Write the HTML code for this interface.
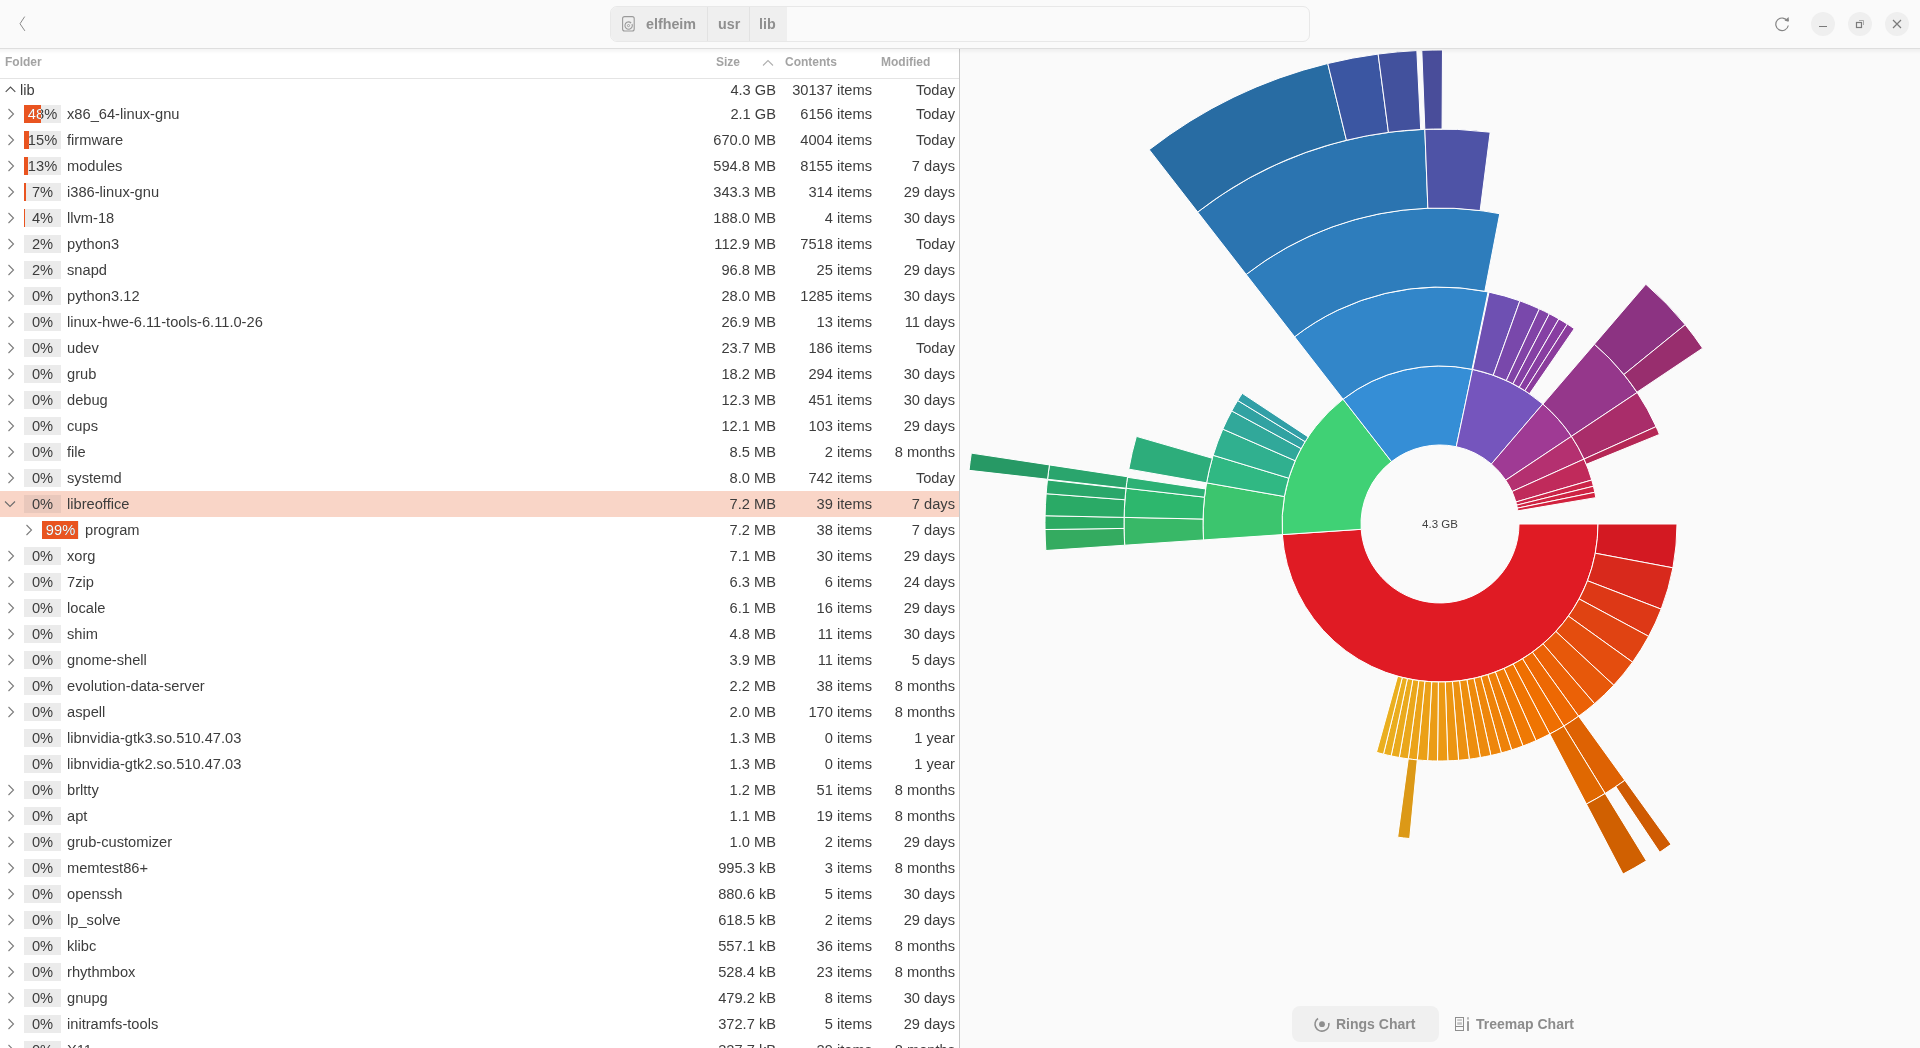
<!DOCTYPE html><html><head><meta charset="utf-8"><style>
*{margin:0;padding:0;box-sizing:border-box}
html,body{width:1920px;height:1048px;overflow:hidden;background:#fafafa;font-family:"Liberation Sans",sans-serif;color:#3d3d3d;-webkit-font-smoothing:antialiased}
#wrap{position:absolute;left:0;top:0;width:1920px;height:1048px;will-change:transform}
#hdr{position:absolute;left:0;top:0;width:1920px;height:49px;background:#fafafa;border-bottom:1px solid #dedede}
#shadow{position:absolute;left:0;top:49px;width:1920px;height:5px;background:linear-gradient(rgba(0,0,0,0.045),rgba(0,0,0,0));z-index:5}
#left{position:absolute;left:0;top:49px;width:959px;height:999px;background:#fff;overflow:hidden}
#vline{position:absolute;left:959px;top:49px;width:1px;height:999px;background:#c8c8c8}
.colh{position:absolute;top:-1px;height:29px;line-height:29px;font-weight:bold;font-size:12px;color:#a3a3a3}
#colb{position:absolute;left:0;top:29px;width:959px;height:1px;background:#e4e4e4}
.row{position:absolute;left:0;width:959px;height:26px;font-size:14.67px;line-height:26px}
.row.hl{background:#f9d5c7}
.ex{position:absolute}
.ex svg{display:block}
.pb{position:absolute;top:4px;width:37px;height:18px;background:#ebebeb;overflow:hidden}
.hl .pb{background:#e9c8bc}
.pf{position:absolute;left:0;top:0;height:18px;background:#e95420}
.pt{position:absolute;left:0;top:0;width:37px;height:18px;line-height:18px;text-align:center;font-size:14.67px;color:#3d3d3d}
.pt.w{color:#fff}
.pclip{position:absolute;left:0;top:0;height:18px;overflow:hidden}
.nm{position:absolute;top:0;white-space:pre}
.c1{position:absolute;right:183px;top:0;white-space:pre}
.c2{position:absolute;right:87px;top:0;white-space:pre}
.c3{position:absolute;right:4px;top:0;white-space:pre}
#pathbar{position:absolute;left:610px;top:6px;width:700px;height:36px;border:1px solid #e8e8e8;border-radius:7px;background:#fafafa;overflow:hidden}
.seg{position:absolute;top:0;height:34px;background:#efefef;font-weight:bold;font-size:14.3px;line-height:34px;color:#8f8f8f}
.wb{position:absolute;top:12px;width:24px;height:24px;border-radius:12px;background:#efefef}
.btn2{position:absolute;top:1006px;height:36px;border-radius:8px;font-weight:bold;font-size:14px;line-height:36px;color:#8c8c8c}
</style></head><body><div id="wrap">
<div id="hdr"><svg style="position:absolute;left:17px;top:15px" width="10" height="18" viewBox="0 0 10 18"><path d="M7.7 1.6 L3 8.75 L7.9 15.9" fill="none" stroke="#8a8a8a" stroke-width="1"/></svg><div id="pathbar"><div class="seg" style="left:0;width:97px;border-right:1px solid #e2e2e2"><svg style="position:absolute;left:11px;top:9px" width="14" height="17" viewBox="0 0 14 17"><rect x="0.6" y="0.6" width="11.6" height="14.4" rx="2" fill="none" stroke="#9a9a9a" stroke-width="1.1"/><path d="M10.0 8.0 A3.7 3.7 0 1 1 8.2 6.2" fill="none" stroke="#9a9a9a" stroke-width="1.1"/><path d="M7.6 5.4 L9.6 6.4 L8.0 7.8 Z" fill="#9a9a9a"/><circle cx="6.5" cy="9.6" r="1.1" fill="none" stroke="#9a9a9a" stroke-width="0.9"/></svg><span style="position:absolute;left:35px">elfheim</span></div><div class="seg" style="left:97px;width:42px;border-right:1px solid #e2e2e2"><span style="position:absolute;left:10px">usr</span></div><div class="seg" style="left:139px;width:37px"><span style="position:absolute;left:9px">lib</span></div></div><svg style="position:absolute;left:1774px;top:16px" width="18" height="16" viewBox="0 0 18 16"><path d="M13.6 5.2 A6.3 6.3 0 1 0 14.3 9.5" fill="none" stroke="#858585" stroke-width="1.2"/><path d="M10.5 4.8 L15 5.6 L14.6 1" fill="#858585" stroke="none"/></svg><div class="wb" style="left:1811px"><div style="position:absolute;left:8px;top:14px;width:8px;height:1.3px;background:#7a7a7a"></div></div><div class="wb" style="left:1848px"><svg style="position:absolute;left:7px;top:7px" width="10" height="10" viewBox="0 0 10 10"><rect x="1.5" y="3.5" width="5" height="5" fill="none" stroke="#7a7a7a" stroke-width="1.2"/><path d="M4 1.5 H8.5 V6" fill="none" stroke="#9a9a9a" stroke-width="0.8"/></svg></div><div class="wb" style="left:1885px"><svg style="position:absolute;left:7px;top:7px" width="10" height="10" viewBox="0 0 10 10"><path d="M1 1 L9 9 M9 1 L1 9" fill="none" stroke="#7a7a7a" stroke-width="1.2"/></svg></div></div><div id="left"><div class="colh" style="left:5px">Folder</div><div class="colh" style="left:716px">Size</div><svg style="position:absolute;left:762px;top:10px" width="12" height="8" viewBox="0 0 12 8"><path d="M1 6.5 L6 1.5 L11 6.5" fill="none" stroke="#b0b0b0" stroke-width="1.1"/></svg><div class="colh" style="left:785px">Contents</div><div class="colh" style="left:881px">Modified</div><div id="colb"></div></div><div style="position:absolute;left:0;top:0;width:959px;height:1048px;overflow:hidden"><div class="row" style="top:78px;height:24px;line-height:24px"><div class="ex" style="left:5px;top:8px"><svg width="11" height="7" viewBox="0 0 11 7"><path d="M0.7 5.8 L5.5 1 L10.3 5.8" fill="none" stroke="#505050" stroke-width="1.1"/></svg></div><div class="nm" style="left:20px">lib</div><div class="c1">4.3 GB</div><div class="c2">30137 items</div><div class="c3">Today</div></div>
<div class="row" style="top:101px"><div class="ex" style="left:7px;top:7px"><svg class="chev" width="8" height="12" viewBox="0 0 8 12"><path d="M1.5 1 L6.5 6 L1.5 11" fill="none" stroke="#7c7c7c" stroke-width="1.1"/></svg></div><div class="pb" style="left:24px"><div class="pf" style="width:17px"></div><span class="pt">48%</span><div class="pclip" style="width:17px"><span class="pt w">48%</span></div></div><div class="nm" style="left:67px">x86_64-linux-gnu</div><div class="c1">2.1 GB</div><div class="c2">6156 items</div><div class="c3">Today</div></div>
<div class="row" style="top:127px"><div class="ex" style="left:7px;top:7px"><svg class="chev" width="8" height="12" viewBox="0 0 8 12"><path d="M1.5 1 L6.5 6 L1.5 11" fill="none" stroke="#7c7c7c" stroke-width="1.1"/></svg></div><div class="pb" style="left:24px"><div class="pf" style="width:5px"></div><span class="pt">15%</span><div class="pclip" style="width:5px"><span class="pt w">15%</span></div></div><div class="nm" style="left:67px">firmware</div><div class="c1">670.0 MB</div><div class="c2">4004 items</div><div class="c3">Today</div></div>
<div class="row" style="top:153px"><div class="ex" style="left:7px;top:7px"><svg class="chev" width="8" height="12" viewBox="0 0 8 12"><path d="M1.5 1 L6.5 6 L1.5 11" fill="none" stroke="#7c7c7c" stroke-width="1.1"/></svg></div><div class="pb" style="left:24px"><div class="pf" style="width:4px"></div><span class="pt">13%</span><div class="pclip" style="width:4px"><span class="pt w">13%</span></div></div><div class="nm" style="left:67px">modules</div><div class="c1">594.8 MB</div><div class="c2">8155 items</div><div class="c3">7 days</div></div>
<div class="row" style="top:179px"><div class="ex" style="left:7px;top:7px"><svg class="chev" width="8" height="12" viewBox="0 0 8 12"><path d="M1.5 1 L6.5 6 L1.5 11" fill="none" stroke="#7c7c7c" stroke-width="1.1"/></svg></div><div class="pb" style="left:24px"><div class="pf" style="width:2px"></div><span class="pt">7%</span><div class="pclip" style="width:2px"><span class="pt w">7%</span></div></div><div class="nm" style="left:67px">i386-linux-gnu</div><div class="c1">343.3 MB</div><div class="c2">314 items</div><div class="c3">29 days</div></div>
<div class="row" style="top:205px"><div class="ex" style="left:7px;top:7px"><svg class="chev" width="8" height="12" viewBox="0 0 8 12"><path d="M1.5 1 L6.5 6 L1.5 11" fill="none" stroke="#7c7c7c" stroke-width="1.1"/></svg></div><div class="pb" style="left:24px"><div class="pf" style="width:1px"></div><span class="pt">4%</span><div class="pclip" style="width:1px"><span class="pt w">4%</span></div></div><div class="nm" style="left:67px">llvm-18</div><div class="c1">188.0 MB</div><div class="c2">4 items</div><div class="c3">30 days</div></div>
<div class="row" style="top:231px"><div class="ex" style="left:7px;top:7px"><svg class="chev" width="8" height="12" viewBox="0 0 8 12"><path d="M1.5 1 L6.5 6 L1.5 11" fill="none" stroke="#7c7c7c" stroke-width="1.1"/></svg></div><div class="pb" style="left:24px"><div class="pf" style="width:0px"></div><span class="pt">2%</span></div><div class="nm" style="left:67px">python3</div><div class="c1">112.9 MB</div><div class="c2">7518 items</div><div class="c3">Today</div></div>
<div class="row" style="top:257px"><div class="ex" style="left:7px;top:7px"><svg class="chev" width="8" height="12" viewBox="0 0 8 12"><path d="M1.5 1 L6.5 6 L1.5 11" fill="none" stroke="#7c7c7c" stroke-width="1.1"/></svg></div><div class="pb" style="left:24px"><div class="pf" style="width:0px"></div><span class="pt">2%</span></div><div class="nm" style="left:67px">snapd</div><div class="c1">96.8 MB</div><div class="c2">25 items</div><div class="c3">29 days</div></div>
<div class="row" style="top:283px"><div class="ex" style="left:7px;top:7px"><svg class="chev" width="8" height="12" viewBox="0 0 8 12"><path d="M1.5 1 L6.5 6 L1.5 11" fill="none" stroke="#7c7c7c" stroke-width="1.1"/></svg></div><div class="pb" style="left:24px"><div class="pf" style="width:0px"></div><span class="pt">0%</span></div><div class="nm" style="left:67px">python3.12</div><div class="c1">28.0 MB</div><div class="c2">1285 items</div><div class="c3">30 days</div></div>
<div class="row" style="top:309px"><div class="ex" style="left:7px;top:7px"><svg class="chev" width="8" height="12" viewBox="0 0 8 12"><path d="M1.5 1 L6.5 6 L1.5 11" fill="none" stroke="#7c7c7c" stroke-width="1.1"/></svg></div><div class="pb" style="left:24px"><div class="pf" style="width:0px"></div><span class="pt">0%</span></div><div class="nm" style="left:67px">linux-hwe-6.11-tools-6.11.0-26</div><div class="c1">26.9 MB</div><div class="c2">13 items</div><div class="c3">11 days</div></div>
<div class="row" style="top:335px"><div class="ex" style="left:7px;top:7px"><svg class="chev" width="8" height="12" viewBox="0 0 8 12"><path d="M1.5 1 L6.5 6 L1.5 11" fill="none" stroke="#7c7c7c" stroke-width="1.1"/></svg></div><div class="pb" style="left:24px"><div class="pf" style="width:0px"></div><span class="pt">0%</span></div><div class="nm" style="left:67px">udev</div><div class="c1">23.7 MB</div><div class="c2">186 items</div><div class="c3">Today</div></div>
<div class="row" style="top:361px"><div class="ex" style="left:7px;top:7px"><svg class="chev" width="8" height="12" viewBox="0 0 8 12"><path d="M1.5 1 L6.5 6 L1.5 11" fill="none" stroke="#7c7c7c" stroke-width="1.1"/></svg></div><div class="pb" style="left:24px"><div class="pf" style="width:0px"></div><span class="pt">0%</span></div><div class="nm" style="left:67px">grub</div><div class="c1">18.2 MB</div><div class="c2">294 items</div><div class="c3">30 days</div></div>
<div class="row" style="top:387px"><div class="ex" style="left:7px;top:7px"><svg class="chev" width="8" height="12" viewBox="0 0 8 12"><path d="M1.5 1 L6.5 6 L1.5 11" fill="none" stroke="#7c7c7c" stroke-width="1.1"/></svg></div><div class="pb" style="left:24px"><div class="pf" style="width:0px"></div><span class="pt">0%</span></div><div class="nm" style="left:67px">debug</div><div class="c1">12.3 MB</div><div class="c2">451 items</div><div class="c3">30 days</div></div>
<div class="row" style="top:413px"><div class="ex" style="left:7px;top:7px"><svg class="chev" width="8" height="12" viewBox="0 0 8 12"><path d="M1.5 1 L6.5 6 L1.5 11" fill="none" stroke="#7c7c7c" stroke-width="1.1"/></svg></div><div class="pb" style="left:24px"><div class="pf" style="width:0px"></div><span class="pt">0%</span></div><div class="nm" style="left:67px">cups</div><div class="c1">12.1 MB</div><div class="c2">103 items</div><div class="c3">29 days</div></div>
<div class="row" style="top:439px"><div class="ex" style="left:7px;top:7px"><svg class="chev" width="8" height="12" viewBox="0 0 8 12"><path d="M1.5 1 L6.5 6 L1.5 11" fill="none" stroke="#7c7c7c" stroke-width="1.1"/></svg></div><div class="pb" style="left:24px"><div class="pf" style="width:0px"></div><span class="pt">0%</span></div><div class="nm" style="left:67px">file</div><div class="c1">8.5 MB</div><div class="c2">2 items</div><div class="c3">8 months</div></div>
<div class="row" style="top:465px"><div class="ex" style="left:7px;top:7px"><svg class="chev" width="8" height="12" viewBox="0 0 8 12"><path d="M1.5 1 L6.5 6 L1.5 11" fill="none" stroke="#7c7c7c" stroke-width="1.1"/></svg></div><div class="pb" style="left:24px"><div class="pf" style="width:0px"></div><span class="pt">0%</span></div><div class="nm" style="left:67px">systemd</div><div class="c1">8.0 MB</div><div class="c2">742 items</div><div class="c3">Today</div></div>
<div class="row hl" style="top:491px"><div class="ex" style="left:4+0px;top:9px;left:4px"><svg class="chev" width="12" height="8" viewBox="0 0 12 8"><path d="M1 1.5 L6 6.5 L11 1.5" fill="none" stroke="#6c6c6c" stroke-width="1.1"/></svg></div><div class="pb" style="left:24px"><div class="pf" style="width:0px"></div><span class="pt">0%</span></div><div class="nm" style="left:67px">libreoffice</div><div class="c1">7.2 MB</div><div class="c2">39 items</div><div class="c3">7 days</div></div>
<div class="row" style="top:517px"><div class="ex" style="left:25px;top:7px"><svg class="chev" width="8" height="12" viewBox="0 0 8 12"><path d="M1.5 1 L6.5 6 L1.5 11" fill="none" stroke="#7c7c7c" stroke-width="1.1"/></svg></div><div class="pb" style="left:42px"><div class="pf" style="width:36px"></div><span class="pt">99%</span><div class="pclip" style="width:36px"><span class="pt w">99%</span></div></div><div class="nm" style="left:85px">program</div><div class="c1">7.2 MB</div><div class="c2">38 items</div><div class="c3">7 days</div></div>
<div class="row" style="top:543px"><div class="ex" style="left:7px;top:7px"><svg class="chev" width="8" height="12" viewBox="0 0 8 12"><path d="M1.5 1 L6.5 6 L1.5 11" fill="none" stroke="#7c7c7c" stroke-width="1.1"/></svg></div><div class="pb" style="left:24px"><div class="pf" style="width:0px"></div><span class="pt">0%</span></div><div class="nm" style="left:67px">xorg</div><div class="c1">7.1 MB</div><div class="c2">30 items</div><div class="c3">29 days</div></div>
<div class="row" style="top:569px"><div class="ex" style="left:7px;top:7px"><svg class="chev" width="8" height="12" viewBox="0 0 8 12"><path d="M1.5 1 L6.5 6 L1.5 11" fill="none" stroke="#7c7c7c" stroke-width="1.1"/></svg></div><div class="pb" style="left:24px"><div class="pf" style="width:0px"></div><span class="pt">0%</span></div><div class="nm" style="left:67px">7zip</div><div class="c1">6.3 MB</div><div class="c2">6 items</div><div class="c3">24 days</div></div>
<div class="row" style="top:595px"><div class="ex" style="left:7px;top:7px"><svg class="chev" width="8" height="12" viewBox="0 0 8 12"><path d="M1.5 1 L6.5 6 L1.5 11" fill="none" stroke="#7c7c7c" stroke-width="1.1"/></svg></div><div class="pb" style="left:24px"><div class="pf" style="width:0px"></div><span class="pt">0%</span></div><div class="nm" style="left:67px">locale</div><div class="c1">6.1 MB</div><div class="c2">16 items</div><div class="c3">29 days</div></div>
<div class="row" style="top:621px"><div class="ex" style="left:7px;top:7px"><svg class="chev" width="8" height="12" viewBox="0 0 8 12"><path d="M1.5 1 L6.5 6 L1.5 11" fill="none" stroke="#7c7c7c" stroke-width="1.1"/></svg></div><div class="pb" style="left:24px"><div class="pf" style="width:0px"></div><span class="pt">0%</span></div><div class="nm" style="left:67px">shim</div><div class="c1">4.8 MB</div><div class="c2">11 items</div><div class="c3">30 days</div></div>
<div class="row" style="top:647px"><div class="ex" style="left:7px;top:7px"><svg class="chev" width="8" height="12" viewBox="0 0 8 12"><path d="M1.5 1 L6.5 6 L1.5 11" fill="none" stroke="#7c7c7c" stroke-width="1.1"/></svg></div><div class="pb" style="left:24px"><div class="pf" style="width:0px"></div><span class="pt">0%</span></div><div class="nm" style="left:67px">gnome-shell</div><div class="c1">3.9 MB</div><div class="c2">11 items</div><div class="c3">5 days</div></div>
<div class="row" style="top:673px"><div class="ex" style="left:7px;top:7px"><svg class="chev" width="8" height="12" viewBox="0 0 8 12"><path d="M1.5 1 L6.5 6 L1.5 11" fill="none" stroke="#7c7c7c" stroke-width="1.1"/></svg></div><div class="pb" style="left:24px"><div class="pf" style="width:0px"></div><span class="pt">0%</span></div><div class="nm" style="left:67px">evolution-data-server</div><div class="c1">2.2 MB</div><div class="c2">38 items</div><div class="c3">8 months</div></div>
<div class="row" style="top:699px"><div class="ex" style="left:7px;top:7px"><svg class="chev" width="8" height="12" viewBox="0 0 8 12"><path d="M1.5 1 L6.5 6 L1.5 11" fill="none" stroke="#7c7c7c" stroke-width="1.1"/></svg></div><div class="pb" style="left:24px"><div class="pf" style="width:0px"></div><span class="pt">0%</span></div><div class="nm" style="left:67px">aspell</div><div class="c1">2.0 MB</div><div class="c2">170 items</div><div class="c3">8 months</div></div>
<div class="row" style="top:725px"><div class="pb" style="left:24px"><div class="pf" style="width:0px"></div><span class="pt">0%</span></div><div class="nm" style="left:67px">libnvidia-gtk3.so.510.47.03</div><div class="c1">1.3 MB</div><div class="c2">0 items</div><div class="c3">1 year</div></div>
<div class="row" style="top:751px"><div class="pb" style="left:24px"><div class="pf" style="width:0px"></div><span class="pt">0%</span></div><div class="nm" style="left:67px">libnvidia-gtk2.so.510.47.03</div><div class="c1">1.3 MB</div><div class="c2">0 items</div><div class="c3">1 year</div></div>
<div class="row" style="top:777px"><div class="ex" style="left:7px;top:7px"><svg class="chev" width="8" height="12" viewBox="0 0 8 12"><path d="M1.5 1 L6.5 6 L1.5 11" fill="none" stroke="#7c7c7c" stroke-width="1.1"/></svg></div><div class="pb" style="left:24px"><div class="pf" style="width:0px"></div><span class="pt">0%</span></div><div class="nm" style="left:67px">brltty</div><div class="c1">1.2 MB</div><div class="c2">51 items</div><div class="c3">8 months</div></div>
<div class="row" style="top:803px"><div class="ex" style="left:7px;top:7px"><svg class="chev" width="8" height="12" viewBox="0 0 8 12"><path d="M1.5 1 L6.5 6 L1.5 11" fill="none" stroke="#7c7c7c" stroke-width="1.1"/></svg></div><div class="pb" style="left:24px"><div class="pf" style="width:0px"></div><span class="pt">0%</span></div><div class="nm" style="left:67px">apt</div><div class="c1">1.1 MB</div><div class="c2">19 items</div><div class="c3">8 months</div></div>
<div class="row" style="top:829px"><div class="ex" style="left:7px;top:7px"><svg class="chev" width="8" height="12" viewBox="0 0 8 12"><path d="M1.5 1 L6.5 6 L1.5 11" fill="none" stroke="#7c7c7c" stroke-width="1.1"/></svg></div><div class="pb" style="left:24px"><div class="pf" style="width:0px"></div><span class="pt">0%</span></div><div class="nm" style="left:67px">grub-customizer</div><div class="c1">1.0 MB</div><div class="c2">2 items</div><div class="c3">29 days</div></div>
<div class="row" style="top:855px"><div class="ex" style="left:7px;top:7px"><svg class="chev" width="8" height="12" viewBox="0 0 8 12"><path d="M1.5 1 L6.5 6 L1.5 11" fill="none" stroke="#7c7c7c" stroke-width="1.1"/></svg></div><div class="pb" style="left:24px"><div class="pf" style="width:0px"></div><span class="pt">0%</span></div><div class="nm" style="left:67px">memtest86+</div><div class="c1">995.3 kB</div><div class="c2">3 items</div><div class="c3">8 months</div></div>
<div class="row" style="top:881px"><div class="ex" style="left:7px;top:7px"><svg class="chev" width="8" height="12" viewBox="0 0 8 12"><path d="M1.5 1 L6.5 6 L1.5 11" fill="none" stroke="#7c7c7c" stroke-width="1.1"/></svg></div><div class="pb" style="left:24px"><div class="pf" style="width:0px"></div><span class="pt">0%</span></div><div class="nm" style="left:67px">openssh</div><div class="c1">880.6 kB</div><div class="c2">5 items</div><div class="c3">30 days</div></div>
<div class="row" style="top:907px"><div class="ex" style="left:7px;top:7px"><svg class="chev" width="8" height="12" viewBox="0 0 8 12"><path d="M1.5 1 L6.5 6 L1.5 11" fill="none" stroke="#7c7c7c" stroke-width="1.1"/></svg></div><div class="pb" style="left:24px"><div class="pf" style="width:0px"></div><span class="pt">0%</span></div><div class="nm" style="left:67px">lp_solve</div><div class="c1">618.5 kB</div><div class="c2">2 items</div><div class="c3">29 days</div></div>
<div class="row" style="top:933px"><div class="ex" style="left:7px;top:7px"><svg class="chev" width="8" height="12" viewBox="0 0 8 12"><path d="M1.5 1 L6.5 6 L1.5 11" fill="none" stroke="#7c7c7c" stroke-width="1.1"/></svg></div><div class="pb" style="left:24px"><div class="pf" style="width:0px"></div><span class="pt">0%</span></div><div class="nm" style="left:67px">klibc</div><div class="c1">557.1 kB</div><div class="c2">36 items</div><div class="c3">8 months</div></div>
<div class="row" style="top:959px"><div class="ex" style="left:7px;top:7px"><svg class="chev" width="8" height="12" viewBox="0 0 8 12"><path d="M1.5 1 L6.5 6 L1.5 11" fill="none" stroke="#7c7c7c" stroke-width="1.1"/></svg></div><div class="pb" style="left:24px"><div class="pf" style="width:0px"></div><span class="pt">0%</span></div><div class="nm" style="left:67px">rhythmbox</div><div class="c1">528.4 kB</div><div class="c2">23 items</div><div class="c3">8 months</div></div>
<div class="row" style="top:985px"><div class="ex" style="left:7px;top:7px"><svg class="chev" width="8" height="12" viewBox="0 0 8 12"><path d="M1.5 1 L6.5 6 L1.5 11" fill="none" stroke="#7c7c7c" stroke-width="1.1"/></svg></div><div class="pb" style="left:24px"><div class="pf" style="width:0px"></div><span class="pt">0%</span></div><div class="nm" style="left:67px">gnupg</div><div class="c1">479.2 kB</div><div class="c2">8 items</div><div class="c3">30 days</div></div>
<div class="row" style="top:1011px"><div class="ex" style="left:7px;top:7px"><svg class="chev" width="8" height="12" viewBox="0 0 8 12"><path d="M1.5 1 L6.5 6 L1.5 11" fill="none" stroke="#7c7c7c" stroke-width="1.1"/></svg></div><div class="pb" style="left:24px"><div class="pf" style="width:0px"></div><span class="pt">0%</span></div><div class="nm" style="left:67px">initramfs-tools</div><div class="c1">372.7 kB</div><div class="c2">5 items</div><div class="c3">29 days</div></div>
<div class="row" style="top:1037px"><div class="ex" style="left:7px;top:7px"><svg class="chev" width="8" height="12" viewBox="0 0 8 12"><path d="M1.5 1 L6.5 6 L1.5 11" fill="none" stroke="#7c7c7c" stroke-width="1.1"/></svg></div><div class="pb" style="left:24px"><div class="pf" style="width:0px"></div><span class="pt">0%</span></div><div class="nm" style="left:67px">X11</div><div class="c1">327.7 kB</div><div class="c2">29 items</div><div class="c3">8 months</div></div>
</div><div id="vline"></div><div id="shadow"></div><svg style="position:absolute;left:960px;top:49px" width="960" height="999" viewBox="0 0 960 999">
<path d="M638.00 475.00A158.0 158.0 0 0 1 322.36 485.61L401.18 480.30A79.0 79.0 0 0 0 559.00 475.00Z" fill="#e01b24" stroke="#fff" stroke-width="1" stroke-linejoin="round"/>
<path d="M322.36 485.61A158.0 158.0 0 0 1 383.07 350.22L431.54 412.61A79.0 79.0 0 0 0 401.18 480.30Z" fill="#40d175" stroke="#fff" stroke-width="1" stroke-linejoin="round"/>
<path d="M383.07 350.22A158.0 158.0 0 0 1 512.53 320.38L496.26 397.69A79.0 79.0 0 0 0 431.54 412.61Z" fill="#358ed6" stroke="#fff" stroke-width="1" stroke-linejoin="round"/>
<path d="M512.53 320.38A158.0 158.0 0 0 1 582.78 355.00L531.39 415.00A79.0 79.0 0 0 0 496.26 397.69Z" fill="#7555bd" stroke="#fff" stroke-width="1" stroke-linejoin="round"/>
<path d="M582.78 355.00A158.0 158.0 0 0 1 611.45 387.33L545.72 431.17A79.0 79.0 0 0 0 531.39 415.00Z" fill="#9f3a94" stroke="#fff" stroke-width="1" stroke-linejoin="round"/>
<path d="M611.45 387.33A158.0 158.0 0 0 1 624.05 410.08L552.02 442.54A79.0 79.0 0 0 0 545.72 431.17Z" fill="#b43070" stroke="#fff" stroke-width="1" stroke-linejoin="round"/>
<path d="M624.05 410.08A158.0 158.0 0 0 1 631.75 431.00L555.87 453.00A79.0 79.0 0 0 0 552.02 442.54Z" fill="#c02a5b" stroke="#fff" stroke-width="1" stroke-linejoin="round"/>
<path d="M631.75 431.00A158.0 158.0 0 0 1 633.42 437.23L556.71 456.12A79.0 79.0 0 0 0 555.87 453.00Z" fill="#cb2549" stroke="#fff" stroke-width="1" stroke-linejoin="round"/>
<path d="M633.42 437.23A158.0 158.0 0 0 1 634.78 443.28L557.39 459.14A79.0 79.0 0 0 0 556.71 456.12Z" fill="#ce2443" stroke="#fff" stroke-width="1" stroke-linejoin="round"/>
<path d="M634.78 443.28A158.0 158.0 0 0 1 635.79 448.65L557.89 461.83A79.0 79.0 0 0 0 557.39 459.14Z" fill="#d1223e" stroke="#fff" stroke-width="1" stroke-linejoin="round"/>
<path d="M717.00 475.00A237.0 237.0 0 0 1 712.91 518.84L635.27 504.23A158.0 158.0 0 0 0 638.00 475.00Z" fill="#d31922" stroke="#fff" stroke-width="1" stroke-linejoin="round"/>
<path d="M712.91 518.84A237.0 237.0 0 0 1 701.18 560.13L627.46 531.75A158.0 158.0 0 0 0 635.27 504.23Z" fill="#d8291c" stroke="#fff" stroke-width="1" stroke-linejoin="round"/>
<path d="M701.18 560.13A237.0 237.0 0 0 1 688.67 587.36L619.12 549.91A158.0 158.0 0 0 0 627.46 531.75Z" fill="#dd3816" stroke="#fff" stroke-width="1" stroke-linejoin="round"/>
<path d="M688.67 587.36A237.0 237.0 0 0 1 672.58 613.13L608.39 567.09A158.0 158.0 0 0 0 619.12 549.91Z" fill="#e04312" stroke="#fff" stroke-width="1" stroke-linejoin="round"/>
<path d="M672.58 613.13A237.0 237.0 0 0 1 653.75 636.18L595.84 582.45A158.0 158.0 0 0 0 608.39 567.09Z" fill="#e44d0e" stroke="#fff" stroke-width="1" stroke-linejoin="round"/>
<path d="M653.75 636.18A237.0 237.0 0 0 1 634.55 654.68L583.03 594.79A158.0 158.0 0 0 0 595.84 582.45Z" fill="#e7580a" stroke="#fff" stroke-width="1" stroke-linejoin="round"/>
<path d="M634.55 654.68A237.0 237.0 0 0 1 618.63 667.22L572.42 603.15A158.0 158.0 0 0 0 583.03 594.79Z" fill="#eb6106" stroke="#fff" stroke-width="1" stroke-linejoin="round"/>
<path d="M618.63 667.22A237.0 237.0 0 0 1 603.83 677.08L562.55 609.72A158.0 158.0 0 0 0 572.42 603.15Z" fill="#ed6803" stroke="#fff" stroke-width="1" stroke-linejoin="round"/>
<path d="M603.83 677.08A237.0 237.0 0 0 1 589.80 685.03L553.20 615.02A158.0 158.0 0 0 0 562.55 609.72Z" fill="#ef6f01" stroke="#fff" stroke-width="1" stroke-linejoin="round"/>
<path d="M589.80 685.03A237.0 237.0 0 0 1 576.02 691.68L544.01 619.45A158.0 158.0 0 0 0 553.20 615.02Z" fill="#ef7402" stroke="#fff" stroke-width="1" stroke-linejoin="round"/>
<path d="M576.02 691.68A237.0 237.0 0 0 1 563.00 696.99L535.33 622.99A158.0 158.0 0 0 0 544.01 619.45Z" fill="#ef7904" stroke="#fff" stroke-width="1" stroke-linejoin="round"/>
<path d="M563.00 696.99A237.0 237.0 0 0 1 551.66 700.91L527.77 625.60A158.0 158.0 0 0 0 535.33 622.99Z" fill="#ee7e07" stroke="#fff" stroke-width="1" stroke-linejoin="round"/>
<path d="M551.66 700.91A237.0 237.0 0 0 1 541.34 703.92L520.89 627.62A158.0 158.0 0 0 0 527.77 625.60Z" fill="#ee8209" stroke="#fff" stroke-width="1" stroke-linejoin="round"/>
<path d="M541.34 703.92A237.0 237.0 0 0 1 530.89 706.47L513.93 629.31A158.0 158.0 0 0 0 520.89 627.62Z" fill="#ee860b" stroke="#fff" stroke-width="1" stroke-linejoin="round"/>
<path d="M530.89 706.47A237.0 237.0 0 0 1 520.34 708.54L506.89 630.69A158.0 158.0 0 0 0 513.93 629.31Z" fill="#ed8a0c" stroke="#fff" stroke-width="1" stroke-linejoin="round"/>
<path d="M520.34 708.54A237.0 237.0 0 0 1 509.29 710.18L499.53 631.79A158.0 158.0 0 0 0 506.89 630.69Z" fill="#ed8e0e" stroke="#fff" stroke-width="1" stroke-linejoin="round"/>
<path d="M509.29 710.18A237.0 237.0 0 0 1 498.59 711.27L492.40 632.51A158.0 158.0 0 0 0 499.53 631.79Z" fill="#ec9110" stroke="#fff" stroke-width="1" stroke-linejoin="round"/>
<path d="M498.59 711.27A237.0 237.0 0 0 1 487.86 711.87L485.24 632.91A158.0 158.0 0 0 0 492.40 632.51Z" fill="#ec9512" stroke="#fff" stroke-width="1" stroke-linejoin="round"/>
<path d="M487.86 711.87A237.0 237.0 0 0 1 477.52 711.99L478.35 632.99A158.0 158.0 0 0 0 485.24 632.91Z" fill="#ec9914" stroke="#fff" stroke-width="1" stroke-linejoin="round"/>
<path d="M477.52 711.99A237.0 237.0 0 0 1 467.60 711.68L471.73 632.78A158.0 158.0 0 0 0 478.35 632.99Z" fill="#eb9c16" stroke="#fff" stroke-width="1" stroke-linejoin="round"/>
<path d="M467.60 711.68A237.0 237.0 0 0 1 457.28 710.91L464.86 632.27A158.0 158.0 0 0 0 471.73 632.78Z" fill="#eba017" stroke="#fff" stroke-width="1" stroke-linejoin="round"/>
<path d="M457.28 710.91A237.0 237.0 0 0 1 448.25 709.86L458.83 631.58A158.0 158.0 0 0 0 464.86 632.27Z" fill="#eba319" stroke="#fff" stroke-width="1" stroke-linejoin="round"/>
<path d="M448.25 709.86A237.0 237.0 0 0 1 439.25 708.47L452.84 630.65A158.0 158.0 0 0 0 458.83 631.58Z" fill="#eaa71b" stroke="#fff" stroke-width="1" stroke-linejoin="round"/>
<path d="M439.25 708.47A237.0 237.0 0 0 1 431.13 706.91L447.42 629.60A158.0 158.0 0 0 0 452.84 630.65Z" fill="#eaaa1c" stroke="#fff" stroke-width="1" stroke-linejoin="round"/>
<path d="M431.13 706.91A237.0 237.0 0 0 1 423.47 705.16L442.31 628.44A158.0 158.0 0 0 0 447.42 629.60Z" fill="#eaad1e" stroke="#fff" stroke-width="1" stroke-linejoin="round"/>
<path d="M423.47 705.16A237.0 237.0 0 0 1 416.47 703.33L437.64 627.22A158.0 158.0 0 0 0 442.31 628.44Z" fill="#eaaf1f" stroke="#fff" stroke-width="1" stroke-linejoin="round"/>
<path d="M243.53 490.91A237.0 237.0 0 0 1 246.60 433.85L324.40 447.56A158.0 158.0 0 0 0 322.36 485.61Z" fill="#3cc56e" stroke="#fff" stroke-width="1" stroke-linejoin="round"/>
<path d="M246.60 433.85A237.0 237.0 0 0 1 253.18 406.30L328.78 429.20A158.0 158.0 0 0 0 324.40 447.56Z" fill="#30b883" stroke="#fff" stroke-width="1" stroke-linejoin="round"/>
<path d="M253.18 406.30A237.0 237.0 0 0 1 262.82 380.12L335.21 411.74A158.0 158.0 0 0 0 328.78 429.20Z" fill="#30b08f" stroke="#fff" stroke-width="1" stroke-linejoin="round"/>
<path d="M262.82 380.12A237.0 237.0 0 0 1 271.72 361.91L341.15 399.61A158.0 158.0 0 0 0 335.21 411.74Z" fill="#31a89a" stroke="#fff" stroke-width="1" stroke-linejoin="round"/>
<path d="M271.72 361.91A237.0 237.0 0 0 1 277.71 351.52L345.14 392.68A158.0 158.0 0 0 0 341.15 399.61Z" fill="#31a2a2" stroke="#fff" stroke-width="1" stroke-linejoin="round"/>
<path d="M277.71 351.52A237.0 237.0 0 0 1 282.25 344.36L348.17 387.91A158.0 158.0 0 0 0 345.14 392.68Z" fill="#319fa7" stroke="#fff" stroke-width="1" stroke-linejoin="round"/>
<path d="M334.61 287.83A237.0 237.0 0 0 1 528.06 242.92L512.04 320.28A158.0 158.0 0 0 0 383.07 350.22Z" fill="#3286c9" stroke="#fff" stroke-width="1" stroke-linejoin="round"/>
<path d="M529.03 243.13A237.0 237.0 0 0 1 559.89 251.87L533.26 326.25A158.0 158.0 0 0 0 512.69 320.42Z" fill="#6e50b2" stroke="#fff" stroke-width="1" stroke-linejoin="round"/>
<path d="M559.89 251.87A237.0 237.0 0 0 1 579.41 259.86L546.27 331.57A158.0 158.0 0 0 0 533.26 326.25Z" fill="#7948ab" stroke="#fff" stroke-width="1" stroke-linejoin="round"/>
<path d="M579.41 259.86A237.0 237.0 0 0 1 589.43 264.78L552.96 334.85A158.0 158.0 0 0 0 546.27 331.57Z" fill="#8143a6" stroke="#fff" stroke-width="1" stroke-linejoin="round"/>
<path d="M589.43 264.78A237.0 237.0 0 0 1 598.86 269.96L559.24 338.31A158.0 158.0 0 0 0 552.96 334.85Z" fill="#8540a4" stroke="#fff" stroke-width="1" stroke-linejoin="round"/>
<path d="M598.86 269.96A237.0 237.0 0 0 1 607.34 275.12L564.89 341.74A158.0 158.0 0 0 0 559.24 338.31Z" fill="#883da1" stroke="#fff" stroke-width="1" stroke-linejoin="round"/>
<path d="M607.34 275.12A237.0 237.0 0 0 1 614.24 279.68L569.49 344.79A158.0 158.0 0 0 0 564.89 341.74Z" fill="#8b3c9c" stroke="#fff" stroke-width="1" stroke-linejoin="round"/>
<path d="M634.39 295.19A237.0 237.0 0 0 1 677.17 343.50L611.45 387.33A158.0 158.0 0 0 0 582.93 355.12Z" fill="#95378b" stroke="#fff" stroke-width="1" stroke-linejoin="round"/>
<path d="M677.17 343.50A237.0 237.0 0 0 1 696.07 377.62L624.05 410.08A158.0 158.0 0 0 0 611.45 387.33Z" fill="#a92d6a" stroke="#fff" stroke-width="1" stroke-linejoin="round"/>
<path d="M696.07 377.62A237.0 237.0 0 0 1 699.43 385.45L626.29 415.30A158.0 158.0 0 0 0 624.05 410.08Z" fill="#b52856" stroke="#fff" stroke-width="1" stroke-linejoin="round"/>
<path d="M664.85 731.30A316.0 316.0 0 0 1 645.11 744.43L603.83 677.08A237.0 237.0 0 0 0 618.63 667.22Z" fill="#de6203" stroke="#fff" stroke-width="1" stroke-linejoin="round"/>
<path d="M645.11 744.43A316.0 316.0 0 0 1 626.40 755.04L589.80 685.03A237.0 237.0 0 0 0 603.83 677.08Z" fill="#e06801" stroke="#fff" stroke-width="1" stroke-linejoin="round"/>
<path d="M449.71 789.55A316.0 316.0 0 0 1 437.66 788.15L448.25 709.86A237.0 237.0 0 0 0 457.28 710.91Z" fill="#dc9917" stroke="#fff" stroke-width="1" stroke-linejoin="round"/>
<path d="M164.71 496.22A316.0 316.0 0 0 1 164.07 468.38L243.05 470.04A237.0 237.0 0 0 0 243.53 490.91Z" fill="#38b867" stroke="#fff" stroke-width="1" stroke-linejoin="round"/>
<path d="M164.07 468.38A316.0 316.0 0 0 1 166.03 439.23L244.52 448.17A237.0 237.0 0 0 0 243.05 470.04Z" fill="#2db76d" stroke="#fff" stroke-width="1" stroke-linejoin="round"/>
<path d="M166.03 439.23A316.0 316.0 0 0 1 167.47 428.29L245.60 439.97A237.0 237.0 0 0 0 244.52 448.17Z" fill="#2db175" stroke="#fff" stroke-width="1" stroke-linejoin="round"/>
<path d="M168.80 420.13A316.0 316.0 0 0 1 176.39 387.37L252.30 409.28A237.0 237.0 0 0 0 246.60 433.85Z" fill="#2dad7b" stroke="#fff" stroke-width="1" stroke-linejoin="round"/>
<path d="M286.15 225.45A316.0 316.0 0 0 1 539.75 164.70L524.82 242.28A237.0 237.0 0 0 0 334.61 287.83Z" fill="#2e7dbc" stroke="#fff" stroke-width="1" stroke-linejoin="round"/>
<path d="M685.85 235.25A316.0 316.0 0 0 1 725.23 275.71L663.92 325.53A237.0 237.0 0 0 0 634.39 295.19Z" fill="#8c3382" stroke="#fff" stroke-width="1" stroke-linejoin="round"/>
<path d="M725.23 275.71A316.0 316.0 0 0 1 742.59 299.21L676.94 343.16A237.0 237.0 0 0 0 663.92 325.53Z" fill="#982e6e" stroke="#fff" stroke-width="1" stroke-linejoin="round"/>
<path d="M686.39 811.79A395.0 395.0 0 0 1 663.00 825.05L626.40 755.04A316.0 316.0 0 0 0 645.11 744.43Z" fill="#d06001" stroke="#fff" stroke-width="1" stroke-linejoin="round"/>
<path d="M711.06 795.37A395.0 395.0 0 0 1 699.74 803.24L655.79 737.59A316.0 316.0 0 0 0 664.85 731.30Z" fill="#cf5b03" stroke="#fff" stroke-width="1" stroke-linejoin="round"/>
<path d="M85.89 501.52A395.0 395.0 0 0 1 85.04 480.52L164.03 479.41A316.0 316.0 0 0 0 164.71 496.22Z" fill="#34ab60" stroke="#fff" stroke-width="1" stroke-linejoin="round"/>
<path d="M85.04 480.52A395.0 395.0 0 0 1 85.09 466.73L164.07 468.38A316.0 316.0 0 0 0 164.03 479.41Z" fill="#2cab63" stroke="#fff" stroke-width="1" stroke-linejoin="round"/>
<path d="M85.09 466.73A395.0 395.0 0 0 1 86.16 444.70L164.93 450.76A316.0 316.0 0 0 0 164.07 468.38Z" fill="#2aaa66" stroke="#fff" stroke-width="1" stroke-linejoin="round"/>
<path d="M86.16 444.70A395.0 395.0 0 0 1 87.46 430.97L165.97 439.78A316.0 316.0 0 0 0 164.93 450.76Z" fill="#2aa76a" stroke="#fff" stroke-width="1" stroke-linejoin="round"/>
<path d="M87.54 430.28A395.0 395.0 0 0 1 89.44 415.93L167.55 427.75A316.0 316.0 0 0 0 166.03 439.23Z" fill="#2aa56d" stroke="#fff" stroke-width="1" stroke-linejoin="round"/>
<path d="M237.68 163.06A395.0 395.0 0 0 1 464.84 80.29L467.87 159.23A316.0 316.0 0 0 0 286.15 225.45Z" fill="#2b74b0" stroke="#fff" stroke-width="1" stroke-linejoin="round"/>
<path d="M464.84 80.29A395.0 395.0 0 0 1 530.19 83.20L520.15 161.56A316.0 316.0 0 0 0 467.87 159.23Z" fill="#4e53a6" stroke="#fff" stroke-width="1" stroke-linejoin="round"/>
<path d="M9.05 421.34A474.0 474.0 0 0 1 11.33 404.12L89.44 415.93A395.0 395.0 0 0 0 87.54 430.28Z" fill="#279965" stroke="#fff" stroke-width="1" stroke-linejoin="round"/>
<path d="M189.22 100.67A474.0 474.0 0 0 1 367.74 14.49L386.45 91.24A395.0 395.0 0 0 0 237.68 163.06Z" fill="#286ca3" stroke="#fff" stroke-width="1" stroke-linejoin="round"/>
<path d="M367.74 14.49A474.0 474.0 0 0 1 418.13 5.06L428.44 83.38A395.0 395.0 0 0 0 386.45 91.24Z" fill="#3b56a2" stroke="#fff" stroke-width="1" stroke-linejoin="round"/>
<path d="M418.13 5.06A474.0 474.0 0 0 1 456.85 1.57L460.70 80.47A395.0 395.0 0 0 0 428.44 83.38Z" fill="#42519d" stroke="#fff" stroke-width="1" stroke-linejoin="round"/>
<path d="M461.80 1.35A474.0 474.0 0 0 1 482.48 1.01L482.07 80.01A395.0 395.0 0 0 0 464.84 80.29Z" fill="#494d9a" stroke="#fff" stroke-width="1" stroke-linejoin="round"/>
<text x="480.0" y="479.0" text-anchor="middle" font-family="Liberation Sans" font-size="11.5" fill="#404040">4.3 GB</text>
</svg><div class="btn2" style="left:1292px;width:147px;background:#f0f0f0"><svg style="position:absolute;left:21px;top:10px" width="18" height="18" viewBox="0 0 18 18"><path d="M15.8 7.0 A6.9 6.9 0 1 1 5.04 2.55" fill="none" stroke="#8e8e8e" stroke-width="1.7"/><circle cx="9" cy="8.2" r="2.9" fill="#8e8e8e"/></svg><span style="position:absolute;left:44px">Rings Chart</span></div><div class="btn2" style="left:1444px;width:150px"><svg style="position:absolute;left:10px;top:10px" width="16" height="16" viewBox="0 0 16 16"><rect x="1.5" y="1.5" width="8" height="13" fill="none" stroke="#8e8e8e" stroke-width="1"/><path d="M1.5 10.5 H9.5" stroke="#8e8e8e" stroke-width="1"/><rect x="3.2" y="3.2" width="4.7" height="1.7" fill="#c4c4c4"/><rect x="3.2" y="6.2" width="4.7" height="2.6" fill="#c4c4c4"/><rect x="13.1" y="1.2" width="1.8" height="2.4" fill="#b0b0b0"/><rect x="13.1" y="5.2" width="1.8" height="9.7" fill="#8e8e8e"/></svg><span style="position:absolute;left:32px">Treemap Chart</span></div></div></body></html>
